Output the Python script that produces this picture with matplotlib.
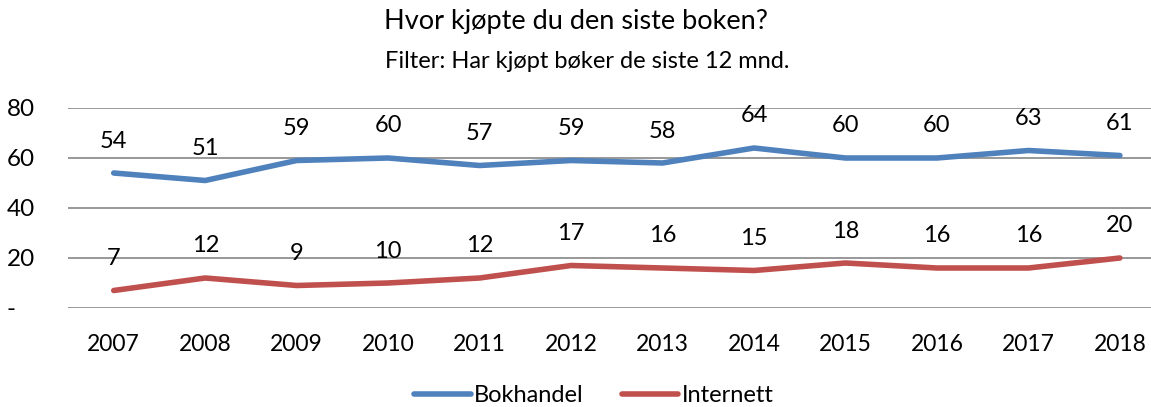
import matplotlib.pyplot as plt

plt.rcParams['font.family'] = ['Lato', 'DejaVu Sans']

years = ['2007', '2008', '2009', '2010', '2011', '2012',
         '2013', '2014', '2015', '2016', '2017', '2018']
bokhandel = [54, 51, 59, 60, 57, 59, 58, 64, 60, 60, 63, 61]
internett = [7, 12, 9, 10, 12, 17, 16, 15, 18, 16, 16, 20]
y_ticks = [0, 20, 40, 60, 80]
y_labels = ['-   ', '20', '40', '60', '80']

blue = '#4F81BD'
red = '#C0504D'

W, H = 1151, 407
fig = plt.figure(figsize=(W / 100, H / 100), dpi=100)
ax = fig.add_axes([68 / W, (H - 308) / H, (W - 68) / W, 200 / H])

x = range(len(years))
ax.plot(x, bokhandel, color=blue, lw=4, solid_capstyle='round', label='Bokhandel', zorder=3)
ax.plot(x, internett, color=red, lw=4, solid_capstyle='round', label='Internett', zorder=3)

# data labels above each point
for series in (bokhandel, internett):
    for i, v in enumerate(series):
        ax.annotate(str(v), (i, v), xytext=(0, 32), textcoords='offset pixels',
                    ha='center', va='center', fontsize=17, color='black')

ax.set_xlim(-0.5, 11.34)
ax.set_ylim(0, 80)
ax.set_yticks(y_ticks)
ax.set_yticklabels(y_labels)
ax.set_xticks(list(x))
ax.set_xticklabels(years)
ax.tick_params(axis='both', length=0, labelsize=16.5)
ax.tick_params(axis='y', labelsize=17.5)
ax.tick_params(axis='x', pad=19)
ax.tick_params(axis='y', pad=24)
for lab in ax.get_yticklabels():
    lab.set_horizontalalignment('right')
ax.grid(axis='y', color='#868686', lw=1.2)
ax.set_axisbelow(True)
for s in ax.spines.values():
    s.set_visible(False)

fig.text(0.5, 1 - 22 / H, 'Hvor kjøpte du den siste boken?', ha='center', va='center', fontsize=19.5)
fig.text(0.51, 1 - 61 / H, 'Filter: Har kjøpt bøker de siste 12 mnd.', ha='center', va='center', fontsize=17)

fig.legend(loc='center', bbox_to_anchor=(594 / W, 1 - 396 / H), ncol=2, frameon=False,
           fontsize=17, handlelength=2.4, handletextpad=0.15, columnspacing=1.6)

fig.savefig('out.png', dpi=100)
